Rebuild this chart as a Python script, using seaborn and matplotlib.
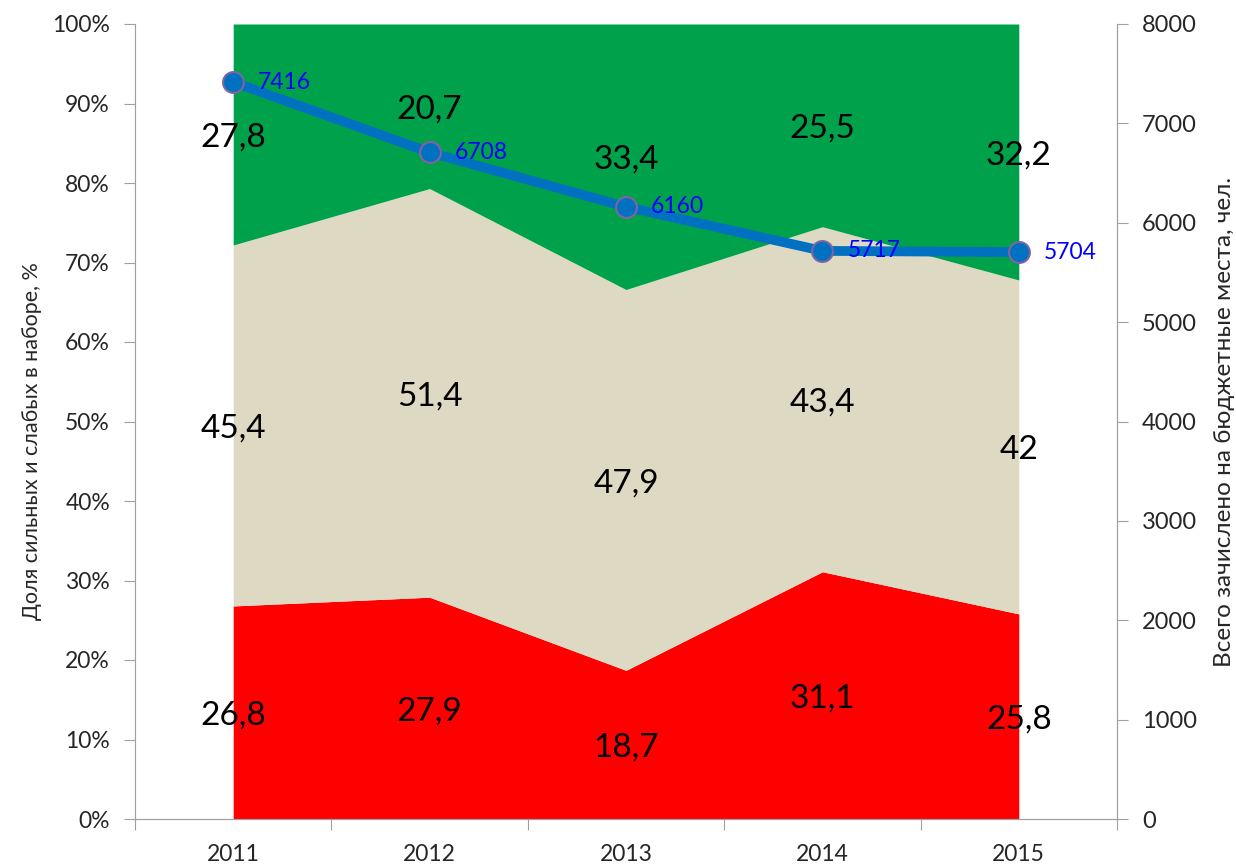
import numpy as np
import pandas as pd
import matplotlib
matplotlib.use('Agg')
import matplotlib.pyplot as plt
import seaborn as sns

years = ['2011', '2012', '2013', '2014', '2015']
weak = [26.8, 27.9, 18.7, 31.1, 25.8]
middle = [45.4, 51.4, 47.9, 43.4, 42]
strong = [27.8, 20.7, 33.4, 25.5, 32.2]
enrolled = [7416, 6708, 6160, 5717, 5704]

sns.set_style('ticks')
plt.rcParams['font.family'] = ['Lato', 'DejaVu Sans']

x = np.arange(1, len(years) + 1)
df = pd.DataFrame({'x': x, 'enrolled': enrolled})

fig, ax = plt.subplots(figsize=(12.36, 8.66), dpi=100)
fig.subplots_adjust(left=135 / 1236, right=1117 / 1236, top=1 - 24 / 866, bottom=1 - 819 / 866)

ax.stackplot(x, weak, middle, strong, colors=['#FF0000', '#DDD9C3', '#00A14B'], linewidth=0)

# labels in the middle of each band
for i in range(len(years)):
    base = 0
    for vals in (weak, middle, strong):
        v = vals[i]
        txt = f'{v:g}'.replace('.', ',')
        ax.text(x[i], base + v / 2 - 0.4, txt, ha='center', va='center', fontsize=24, color='black')
        base += v

ax.set_xlim(0.5, len(years) + 0.5)
ax.set_ylim(0, 100)
ax.set_yticks(np.arange(0, 101, 10))
ax.set_yticklabels([f'{t}%' for t in range(0, 101, 10)])
ax.set_xticks(np.arange(0.5, len(years) + 1, 1))
ax.set_xticklabels([])
ax.set_xticks(x, minor=True)
ax.set_xticklabels(years, minor=True)
ax.tick_params(axis='x', which='major', length=8, color='#A0A0A0', direction='out')
ax.tick_params(axis='x', which='minor', length=0, pad=18, labelsize=16.5)
ax.tick_params(axis='y', length=8, color='#A0A0A0', pad=10, labelsize=16.5)
ax.set_ylabel('Доля сильных и слабых в наборе, %', fontsize=15.5)
ax.yaxis.set_label_coords(-0.095, 0.475)
ax.spines['top'].set_visible(False)
for s in ('left', 'bottom', 'right'):
    ax.spines[s].set_color('#A0A0A0')

ax2 = ax.twinx()
sns.lineplot(data=df, x='x', y='enrolled', ax=ax2, color='#0070C0', linewidth=7,
             marker='o', markersize=15, markerfacecolor='#0070C0',
             markeredgecolor='#8064A2', markeredgewidth=1.5)
for xi, v in zip(x, enrolled):
    ax2.annotate(str(v), (xi, v), xytext=(18, 0), textcoords='offset points',
                 ha='left', va='center', fontsize=16.5, color='#0000FF')
ax2.set_ylim(0, 8000)
ax2.set_yticks(np.arange(0, 8001, 1000))
ax2.set_xlim(0.5, len(years) + 0.5)
ax2.set_xlabel('')
ax2.set_ylabel('Всего зачислено на бюджетные места, чел.', fontsize=17.5, labelpad=12)
ax2.tick_params(axis='y', length=8, color='#A0A0A0', pad=10, labelsize=17)
ax2.spines['top'].set_visible(False)
for s in ('left', 'bottom', 'right'):
    ax2.spines[s].set_color('#A0A0A0')

fig.savefig('out.png', dpi=100)
